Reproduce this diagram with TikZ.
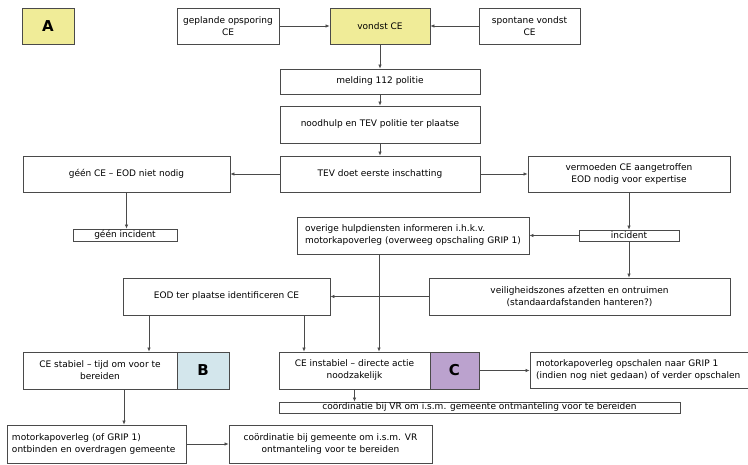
\documentclass[tikz,border=0pt]{standalone}
\usepackage{fontspec}
\setmainfont{DejaVu Sans}
\usetikzlibrary{arrows.meta}
\definecolor{geel}{HTML}{F0EC98}
\definecolor{blauw}{HTML}{D3E6EC}
\definecolor{paars}{HTML}{BBA2CE}
\definecolor{lijn}{HTML}{4A4A4A}
\begin{document}
\begin{tikzpicture}[x=1pt,y=-1pt,
    box/.style={draw=lijn,line width=0.8pt,inner sep=1pt,align=center,
      font=\fontsize{9}{12}\selectfont},
    linksbox/.style={box,align=left,inner xsep=6pt},
    letter/.style={draw=lijn,line width=0.8pt,font=\fontsize{15}{15}\selectfont\bfseries},
    pijl/.style={draw=lijn,line width=0.7pt,-{Latex[length=4pt,width=3.5pt]}}]
  \useasboundingbox (0,0) rectangle (748,464);
  \node[letter,fill=geel,minimum width=52pt,minimum height=36pt] (A) at (48,26) {A};
  \node[box,minimum width=102pt,minimum height=36pt] (gepland) at (228,26) {geplande opsporing\\CE};
  \node[box,fill=geel,minimum width=100pt,minimum height=36pt] (vondst) at (380,26) {vondst CE};
  \node[box,minimum width=101pt,minimum height=36pt] (spontaan) at (529.5,26) {spontane vondst\\CE};
  \node[box,minimum width=200pt,minimum height=25pt] (melding) at (380,81.5) {melding 112 politie};
  \node[box,minimum width=200pt,minimum height=37pt] (noodhulp) at (380,124.5) {noodhulp en TEV politie ter plaatse};
  \node[box,minimum width=200pt,minimum height=36pt] (inschatting) at (380,174) {TEV doet eerste inschatting};
  \node[box,minimum width=207pt,minimum height=36pt] (geenCE) at (126.5,174) {géén CE – EOD niet nodig};
  \node[box,minimum width=104pt,minimum height=12pt,inner sep=0pt] (geenInc) at (125,235) {géén incident};
  \node[box,minimum width=202pt,minimum height=36pt] (vermoeden) at (629,174) {vermoeden CE aangetroffen\\EOD nodig voor expertise};
  \node[box,minimum width=100pt,minimum height=11pt,inner sep=0pt] (incident) at (629,235.5) {incident};
  \node[linksbox,inner xsep=8pt,text width=216pt,minimum height=37pt] (overige) at (413,235.5) {overige hulpdiensten informeren i.h.k.v.\\motorkapoverleg (overweeg opschaling GRIP 1)};
  \node[box,minimum width=301pt,minimum height=37pt] (veilig) at (579.5,296.5) {veiligheidszones afzetten en ontruimen\\(standaardafstanden hanteren?)};
  \node[box,minimum width=207pt,minimum height=37pt] (eod) at (226.5,296.5) {EOD ter plaatse identificeren CE};
  \node[box,minimum width=154pt,minimum height=37pt] (stabiel) at (100,370.5) {CE stabiel – tijd om voor te\\bereiden};
  \node[letter,fill=blauw,minimum width=52pt,minimum height=37pt] (B) at (203,370.5) {B};
  \node[box,minimum width=151pt,minimum height=37pt] (instabiel) at (354.5,370.5) {CE instabiel – directe actie\\noodzakelijk};
  \node[letter,fill=paars,minimum width=49pt,minimum height=37pt] (C) at (454.5,370.5) {C};
  \node[linksbox,text width=210pt,minimum height=36pt] (opschalen) at (641,370) {motorkapoverleg opschalen naar GRIP 1\\(indien nog niet gedaan) of verder opschalen};
  \node[box,minimum width=401pt,minimum height=11pt,inner sep=0pt] (coordVR) at (479.5,407.5) {coördinatie bij VR om i.s.m. gemeente ontmanteling voor te bereiden};
  \node[linksbox,inner xsep=5pt,text width=169pt,minimum height=38pt] (ontbinden) at (96.5,444) {motorkapoverleg (of GRIP 1)\\ontbinden en overdragen gemeente};
  \node[box,minimum width=203pt,minimum height=38pt] (coordGem) at (330.5,444) {coördinatie bij gemeente om i.s.m. VR\\ontmanteling voor te bereiden};

  \draw[pijl] (gepland) -- (vondst);
  \draw[pijl] (spontaan) -- (vondst);
  \draw[pijl] (vondst) -- (melding);
  \draw[pijl] (melding) -- (noodhulp);
  \draw[pijl] (noodhulp) -- (inschatting);
  \draw[pijl] (inschatting) -- (geenCE);
  \draw[pijl] (inschatting) -- (vermoeden);
  \draw[pijl] (geenCE.south) -- (geenCE.south |- geenInc.north);
  \draw[pijl] (vermoeden) -- (incident);
  \draw[pijl] (incident) -- (overige);
  \draw[pijl] (incident.south) -- (incident.south |- veilig.north);
  \draw[pijl] (veilig.west |- eod.east) -- (eod.east);
  \draw[pijl] ([xshift=-34pt]overige.south) -- ([xshift=-34pt]overige.south |- instabiel.north);
  \draw[pijl] ([xshift=-77.5pt]eod.south) -- ([xshift=-77.5pt]eod.south |- stabiel.north);
  \draw[pijl] ([xshift=77.5pt]eod.south) -- ([xshift=77.5pt]eod.south |- instabiel.north);
  \draw[pijl] ([xshift=24pt]stabiel.south) -- ([xshift=24pt]stabiel.south |- ontbinden.north);
  \draw[pijl] (instabiel.south) -- (instabiel.south |- coordVR.north);
  \draw[pijl] (ontbinden) -- (coordGem);
  \draw[pijl] (C) -- (opschalen.west |- C.east);
\end{tikzpicture}
\end{document}
